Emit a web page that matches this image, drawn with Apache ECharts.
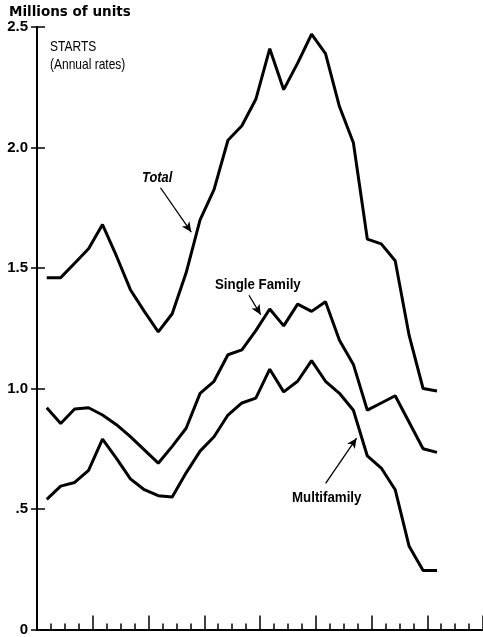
<!DOCTYPE html>
<html>
<head>
<meta charset="utf-8">
<script src="https://cdn.jsdelivr.net/npm/echarts@6/dist/echarts.min.js"></script>
<style>
  html, body { margin: 0; padding: 0; background: #fff; }
  #myChart { width: 483px; height: 637px; }
</style>
</head>
<body>
<div id="myChart"></div>
<script>
  // quarterly starts, millions of units (annual rates)
  var total = [1.46, 1.46, 1.52, 1.58, 1.68, 1.55, 1.41, 1.32, 1.235, 1.31, 1.48, 1.70, 1.825, 2.03, 2.09,
    2.20, 2.41, 2.24, 2.35, 2.47, 2.39, 2.17, 2.02, 1.62, 1.60, 1.53, 1.22, 1.00, 0.99]
  var singleFamily = [0.92, 0.855, 0.915, 0.92, 0.89, 0.85, 0.80, 0.745, 0.69, 0.76, 0.835, 0.98, 1.03, 1.14, 1.16,
    1.24, 1.33, 1.26, 1.35, 1.32, 1.36, 1.20, 1.10, 0.91, 0.94, 0.97, 0.86, 0.75, 0.735]
  var multifamily = [0.54, 0.595, 0.61, 0.66, 0.79, 0.71, 0.625, 0.58, 0.555, 0.55, 0.65, 0.74, 0.80, 0.89, 0.94,
    0.96, 1.08, 0.986, 1.03, 1.116, 1.03, 0.98, 0.91, 0.72, 0.67, 0.58, 0.345, 0.245, 0.245]
  var yTickLabels = ['0', '.5', '1.0', '1.5', '2.0', '2.5']

  var sans = '"Liberation Sans", Arial, sans-serif'

  // each point sits a bit past the start of its quarter
  function pts(arr) {
    return arr.map(function (v, i) { return [i + 0.7, v] })
  }

  function arrow(from, to) {
    return {
      silent: true,
      symbol: ['none', 'arrow'],
      symbolSize: [7, 10],
      lineStyle: { color: '#000', width: 1.3, type: 'solid' },
      label: { show: false },
      emphasis: { disabled: true },
      data: [[{ coord: from }, { coord: to }]]
    }
  }

  function note(text, x, y, font, sx) {
    return {
      type: 'text', x: x, y: y, scaleX: sx || 1,
      style: { text: text, fill: '#000', font: font, verticalAlign: 'top', align: 'left' }
    }
  }

  var myChart = echarts.init(document.getElementById('myChart'))
  var option = {
    animation: false,
    grid: { left: 37, top: 27, width: 448, bottom: 1 },
    xAxis: [{
      type: 'value',
      min: 0,
      max: 32,
      interval: 4,
      axisLine: { show: true, onZero: false, lineStyle: { color: '#000', width: 2 } },
      axisTick: { show: true, inside: true, length: 14, lineStyle: { color: '#000', width: 1.5 } },
      minorTick: { show: true, splitNumber: 4, length: 6, lineStyle: { color: '#000', width: 1.5 } },
      axisLabel: { show: false },
      splitLine: { show: false }
    }, {
      type: 'value',
      position: 'top',
      min: 0,
      max: 32,
      axisLine: { show: true, lineStyle: { color: '#000', width: 1.5 } },
      axisTick: { show: false },
      axisLabel: { show: false },
      splitLine: { show: false }
    }],
    yAxis: [{
      type: 'value',
      min: 0,
      max: 2.5,
      interval: 0.5,
      axisLine: { show: true, lineStyle: { color: '#000', width: 2 } },
      axisTick: { show: true, inside: true, length: 8, lineStyle: { color: '#000', width: 1.5 } },
      axisLabel: {
        margin: 9,
        color: '#000',
        fontSize: 15,
        fontWeight: 'bold',
        fontFamily: sans,
        formatter: function (v, i) { return yTickLabels[i] }
      },
      splitLine: { show: false }
    }, {
      type: 'value',
      position: 'right',
      min: 0,
      max: 2.5,
      interval: 0.5,
      axisLine: { show: true, lineStyle: { color: '#000', width: 2 } },
      axisTick: { show: true, inside: true, length: 6, lineStyle: { color: '#000', width: 1.5 } },
      axisLabel: { show: false },
      splitLine: { show: false }
    }],
    series: [{
        name: 'Total',
        type: 'line',
        data: pts(total),
        showSymbol: false,
        lineStyle: { color: '#000', width: 3 },
        markLine: arrow([8.86, 1.833], [11.07, 1.649])
      },
      {
        name: 'Single Family',
        type: 'line',
        data: pts(singleFamily),
        showSymbol: false,
        lineStyle: { color: '#000', width: 3 },
        markLine: arrow([15.21, 1.387], [16.05, 1.306])
      },
      {
        name: 'Multifamily',
        type: 'line',
        data: pts(multifamily),
        showSymbol: false,
        lineStyle: { color: '#000', width: 3 },
        markLine: arrow([20.71, 0.606], [22.93, 0.794])
      }
    ],
    graphic: [
      note('Millions of units', 9, 5, 'bold 13.5px "DejaVu Sans", sans-serif'),
      note('STARTS', 50, 39, '15px ' + sans, 0.8),
      note('(Annual rates)', 50, 57, '15px ' + sans, 0.8),
      note('Total', 142, 171, 'italic bold 14px ' + sans, 0.92),
      note('Single Family', 215, 278, 'bold 14px ' + sans, 0.95),
      note('Multifamily', 292, 491, 'bold 14px ' + sans, 0.95)
    ]
  }
  myChart.setOption(option)
</script>
</body>
</html>
